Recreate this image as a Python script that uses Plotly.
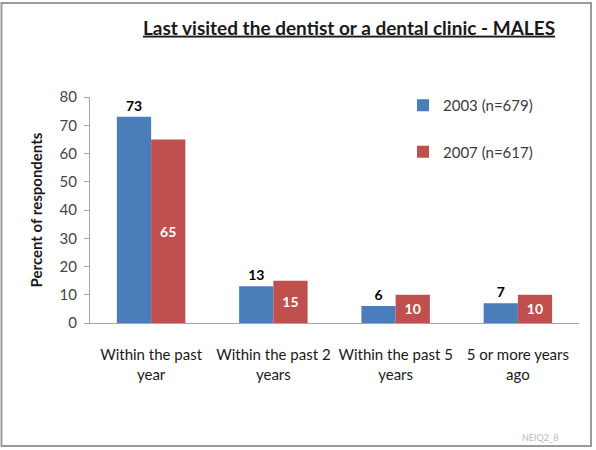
import plotly.graph_objects as go

categories = ["Within the past<br>year", "Within the past 2<br>years", "Within the past 5<br>years", "5 or more years<br>ago"]
values_2003 = [73, 13, 6, 7]
values_2007 = [65, 15, 10, 10]
series_names = ["2003 (n=679)", "2007 (n=617)"]
y_ticks = [0, 10, 20, 30, 40, 50, 60, 70, 80]

FONT = "Lato"
fig = go.Figure()
fig.add_trace(go.Bar(
    x=categories, y=values_2003, name=series_names[0], legendgroup="a",
    marker=dict(color="#4A7EBB", line=dict(width=0)),
    text=[str(v) for v in values_2003], textposition="outside",
    textfont=dict(family=FONT, size=14, color="#000000", weight="bold"),
    cliponaxis=False,
))
fig.add_trace(go.Bar(
    x=categories, y=values_2007, name=series_names[1], legendgroup="b",
    marker=dict(color="#C0504D", line=dict(width=0)),
    text=[str(v) for v in values_2007], textposition="inside", insidetextanchor="middle",
    textfont=dict(family=FONT, size=14, color="#FFFFFF", weight="bold"),
    textangle=0,
))

L, R, T, B = 90, 17, 97, 127
W, H = 596, 450
pw, ph = W - L - R, H - T - B

def px_x(p):
    return (p - L) / pw

def px_y(p):
    return (H - B - p) / ph

fig.update_layout(
    width=W, height=H,
    margin=dict(l=L, r=R, t=T, b=B),
    paper_bgcolor="white", plot_bgcolor="white",
    barmode="group", bargap=0.44, bargroupgap=0,
    font=dict(family=FONT, color="#333333"),
    title=dict(
        text="Last visited the dentist or a dental clinic - MALES",
        x=349 / W, xanchor="center", y=1 - 28 / H, yanchor="middle",
        font=dict(family=FONT, size=19, color="#1a1a1a", weight="bold", lineposition="under"),
    ),
    legend=dict(
        x=px_x(403), y=px_y(89), xanchor="left", yanchor="top",
        font=dict(family=FONT, size=15, color="#3a3a3a"),
        tracegroupgap=24, bgcolor="rgba(0,0,0,0)", itemwidth=30,
    ),
    showlegend=True,
)
fig.update_yaxes(
    range=[0, 80], tickvals=y_ticks, showgrid=False, zeroline=False,
    showline=True, linecolor="#A6A6A6", linewidth=1,
    ticks="outside", ticklen=5, tickcolor="#A6A6A6",
    tickfont=dict(family=FONT, size=15, color="#444444"),
    ticklabelstandoff=4,
    title=dict(text="Percent of respondents", standoff=13,
               font=dict(family=FONT, size=15, color="#1a1a1a", weight="bold")),
)
fig.update_xaxes(
    showgrid=False, showline=True, linecolor="#A6A6A6", linewidth=1,
    ticks="", tickfont=dict(family=FONT, size=15, color="#1a1a1a"),
    ticklabelstandoff=18,
)
fig.add_shape(type="rect", xref="paper", yref="paper",
              x0=px_x(1.5), x1=px_x(591), y0=px_y(446), y1=px_y(3),
              line=dict(color="#9A9A9A", width=2), fillcolor="rgba(0,0,0,0)", layer="below")
fig.add_annotation(text="NEIQ2_8", xref="paper", yref="paper", x=px_x(560), y=px_y(437),
                   xanchor="right", yanchor="middle", showarrow=False,
                   font=dict(family=FONT, size=9, color="#BBBBBB"))

fig.write_html("out.html", config={"displayModeBar": False},
               post_script="document.body.style.margin='0';document.body.style.padding='0';")
